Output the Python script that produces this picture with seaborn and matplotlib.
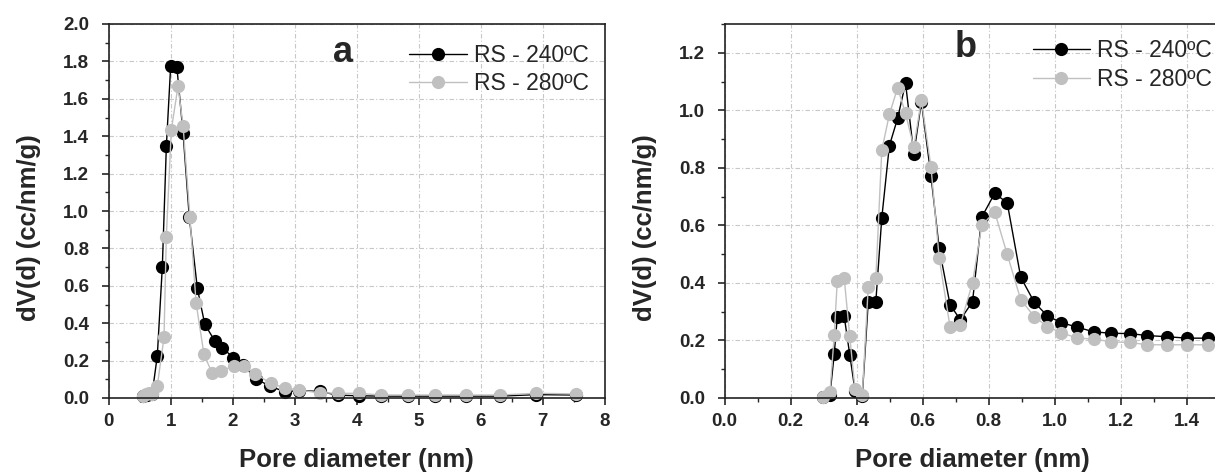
import numpy as np
import pandas as pd
import matplotlib
matplotlib.use("Agg")
import matplotlib.pyplot as plt
from matplotlib.ticker import MultipleLocator
import seaborn as sns

# ---------------- data ----------------
# Panel a
a_x_240 = [0.55, 0.62, 0.70, 0.784, 0.865, 0.93, 1.00, 1.10, 1.20, 1.30, 1.43, 1.55,
           1.71, 1.83, 2.01, 2.17, 2.38, 2.60, 2.84, 3.07, 3.40, 3.70, 4.03, 4.39,
           4.82, 5.27, 5.76, 6.31, 6.89, 7.53]
a_y_240 = [0.010, 0.015, 0.020, 0.226, 0.702, 1.347, 1.778, 1.768, 1.415, 0.967, 0.586, 0.394,
           0.306, 0.270, 0.215, 0.176, 0.101, 0.064, 0.033, 0.040, 0.035, 0.015, 0.012, 0.010,
           0.010, 0.010, 0.010, 0.010, 0.018, 0.016]
a_x_280 = [0.55, 0.60, 0.65, 0.70, 0.784, 0.892, 0.929, 1.01, 1.118, 1.20, 1.31, 1.41,
           1.537, 1.666, 1.816, 2.02, 2.18, 2.365, 2.61, 2.84, 3.07, 3.40, 3.70, 4.03,
           4.39, 4.82, 5.27, 5.76, 6.31, 6.89, 7.53]
a_y_280 = [0.010, 0.020, 0.025, 0.020, 0.065, 0.324, 0.859, 1.434, 1.668, 1.454, 0.969, 0.506,
           0.233, 0.135, 0.146, 0.171, 0.171, 0.131, 0.078, 0.055, 0.042, 0.028, 0.025, 0.025,
           0.016, 0.016, 0.016, 0.016, 0.016, 0.025, 0.022]

# Panel b (shared pore-size grid)
b_x = [0.297, 0.319, 0.332, 0.341, 0.362, 0.379, 0.395, 0.417, 0.435, 0.458, 0.476, 0.499,
       0.524, 0.548, 0.573, 0.596, 0.625, 0.650, 0.683, 0.714, 0.751, 0.779, 0.818, 0.856,
       0.897, 0.938, 0.978, 1.020, 1.069, 1.118, 1.172, 1.227, 1.281, 1.341, 1.401, 1.466]
b_y_240 = [0.003, 0.012, 0.153, 0.281, 0.285, 0.150, 0.025, 0.008, 0.335, 0.335, 0.626, 0.877,
           0.972, 1.095, 0.848, 1.030, 0.773, 0.520, 0.324, 0.272, 0.335, 0.629, 0.711, 0.679,
           0.420, 0.333, 0.285, 0.262, 0.246, 0.230, 0.225, 0.224, 0.217, 0.213, 0.208, 0.208]
b_y_280 = [0.003, 0.020, 0.219, 0.405, 0.418, 0.214, 0.030, 0.011, 0.387, 0.416, 0.861, 0.986,
           1.078, 0.989, 0.872, 1.036, 0.804, 0.486, 0.246, 0.254, 0.401, 0.600, 0.647, 0.500,
           0.342, 0.283, 0.248, 0.227, 0.208, 0.205, 0.195, 0.193, 0.185, 0.185, 0.185, 0.185]

series_labels = ["RS - 240ºC", "RS - 280ºC"]
series_colors = ["#000000", "#c0c0c0"]
panel_letters = ["a", "b"]
x_label = "Pore diameter (nm)"
y_label = "dV(d) (cc/nm/g)"

# ---------------- style ----------------
sns.set_theme(style="white")
plt.rcParams["font.family"] = ["Liberation Sans", "DejaVu Sans"]
plt.rcParams["axes.linewidth"] = 1.2

W, H = 1215, 475
fig = plt.figure(figsize=(W / 100, H / 100), dpi=100)

ax_a = fig.add_axes([108.7 / W, (H - 398) / H, 496 / W, 374 / H])
ax_b = fig.add_axes([724.7 / W, (H - 398) / H, 495 / W, 374 / H])

panels = [
    (ax_a, [(a_x_240, a_y_240), (a_x_280, a_y_280)], (0, 8), (0, 2.0), 1, 0.5, 0.2, 0.1,
     (3.78, 1.845), (0.995, 0.984)),
    (ax_b, [(b_x, b_y_240), (b_x, b_y_280)], (0, 1.5), (0, 1.3), 0.2, 0.1, 0.2, 0.1,
     (0.73, 1.22), (1.012, 0.997)),
]

for i, (ax, data, xl, yl, xmaj, xmin, ymaj, ymin, letter_pos, leg_anchor) in enumerate(panels):
    for (xs, ys), lab, col in zip(data, series_labels, series_colors):
        df = pd.DataFrame({"x": xs, "y": ys})
        sns.lineplot(data=df, x="x", y="y", ax=ax, color=col, label=lab,
                     marker="o", markersize=9.5, markeredgewidth=0, linewidth=1.0,
                     sort=False, estimator=None, clip_on=False)
    ax.set_xlim(*xl)
    ax.set_ylim(*yl)
    ax.xaxis.set_major_locator(MultipleLocator(xmaj))
    ax.xaxis.set_minor_locator(MultipleLocator(xmin))
    ax.yaxis.set_major_locator(MultipleLocator(ymaj))
    ax.yaxis.set_minor_locator(MultipleLocator(ymin))
    ax.xaxis.set_major_formatter(plt.FormatStrFormatter("%g" if i == 0 else "%.1f"))
    ax.yaxis.set_major_formatter(plt.FormatStrFormatter("%.1f"))
    ax.tick_params(axis="both", which="major", direction="out", length=5, width=1.2,
                   labelsize=13.5, bottom=True, left=True, top=False, right=False)
    ax.tick_params(axis="x", which="major", pad=6)
    ax.tick_params(axis="y", which="major", pad=9)
    ax.tick_params(axis="both", which="minor", direction="out", length=3, width=1.0,
                   bottom=True, left=True, top=False, right=False)
    for lbl in ax.get_xticklabels() + ax.get_yticklabels():
        lbl.set_fontweight("bold")
    ax.grid(True, which="major", color="#c8c8c8", linestyle=(0, (4, 2, 1, 2)), linewidth=0.8)
    for s in ax.spines.values():
        s.set_color("#222222")
        s.set_linewidth(1.2)
    ax.set_xlabel(x_label, fontsize=18.5, fontweight="bold", va="top")
    ax.xaxis.set_label_coords(0.5, -0.134)
    ax.set_ylabel(y_label, fontsize=18.5, fontweight="bold")
    ax.yaxis.set_label_coords(-0.137, 0.455)
    ax.text(letter_pos[0], letter_pos[1], panel_letters[i], fontsize=26, fontweight="bold",
            ha="center", va="center")
    ax.legend(loc="upper right", frameon=False, fontsize=16.5, handlelength=2.5,
              handletextpad=0.3, labelspacing=0.25, borderaxespad=0.2,
              bbox_to_anchor=leg_anchor)

fig.savefig("out.png", dpi=100)
